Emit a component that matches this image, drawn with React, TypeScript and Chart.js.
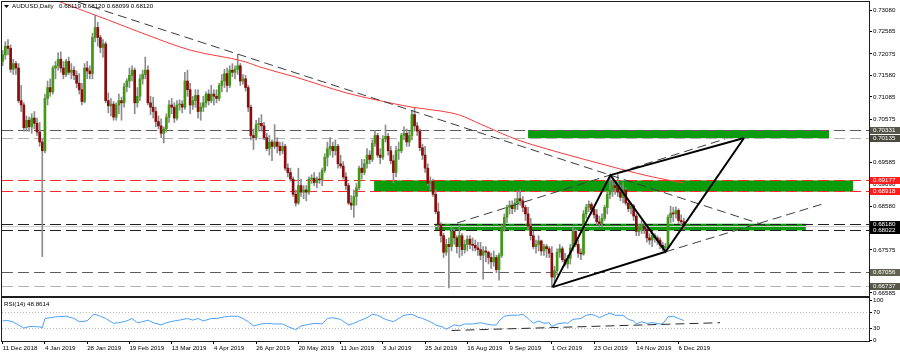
import React, { useEffect, useRef } from "react";
import { Chart, registerables } from "chart.js";

Chart.register(...registerables);

// ---------------- data ----------------
const xTickIndex = [0, 16, 32, 48, 64, 80, 96, 112, 128, 144, 160, 176, 192, 208, 224, 240, 256];
const xTickLabels = [
  "11 Dec 2018", "4 Jan 2019", "28 Jan 2019", "19 Feb 2019", "13 Mar 2019", "4 Apr 2019",
  "26 Apr 2019", "20 May 2019", "11 Jun 2019", "3 Jul 2019", "25 Jul 2019", "16 Aug 2019",
  "9 Sep 2019", "1 Oct 2019", "23 Oct 2019", "14 Nov 2019", "6 Dec 2019",
];
const priceTicks = [0.7308, 0.72585, 0.72075, 0.7158, 0.71085, 0.70575, 0.7008, 0.69585, 0.6909, 0.6858, 0.68085, 0.67575, 0.6708, 0.66585];
const rsiTicks = [0, 30, 70, 100];
const rsiLevels = [70, 30];

const opens = [
  0.7190, 0.7205, 0.7225, 0.7220, 0.7172, 0.7185, 0.7175, 0.7100, 0.7090, 0.7038,
  0.7055, 0.7040, 0.7060, 0.7048, 0.7028, 0.7005, 0.6985, 0.7105, 0.7130, 0.7120,
  0.7175, 0.7180, 0.7195, 0.7175, 0.7160, 0.7190, 0.7165, 0.7170, 0.7158, 0.7140,
  0.7125, 0.7098, 0.7175, 0.7168, 0.7162, 0.7245, 0.7268, 0.7245, 0.7222, 0.7230,
  0.7100, 0.7088, 0.7092, 0.7062, 0.7090, 0.7100, 0.7095, 0.7132, 0.7145, 0.7158,
  0.7170, 0.7095, 0.7110, 0.7150, 0.7160, 0.7170, 0.7095, 0.7085, 0.7075, 0.7052,
  0.7042, 0.7025, 0.7035, 0.7062, 0.7090, 0.7085, 0.7060, 0.7090, 0.7092, 0.7085,
  0.7145, 0.7125, 0.7090, 0.7100, 0.7112, 0.7075, 0.7085, 0.7095, 0.7115, 0.7100,
  0.7115, 0.7110, 0.7105, 0.7135, 0.7145, 0.7162, 0.7135, 0.7170, 0.7165, 0.7172,
  0.7180, 0.7145, 0.7150, 0.7130, 0.7085, 0.7020, 0.7015, 0.7045, 0.7048, 0.7042,
  0.7015, 0.6990, 0.7005, 0.6995, 0.7005, 0.6995, 0.6985, 0.6995, 0.6945, 0.6935,
  0.6920, 0.6885, 0.6865, 0.6905, 0.6890, 0.6895, 0.6890, 0.6920, 0.6922, 0.6912,
  0.6920, 0.6918, 0.6940, 0.6970, 0.6990, 0.6995, 0.6985, 0.6995, 0.6955, 0.6950,
  0.6925, 0.6905, 0.6865, 0.6860, 0.6880, 0.6900, 0.6945, 0.6935, 0.6955, 0.6975,
  0.6965, 0.7002, 0.7020, 0.6975, 0.6970, 0.7012, 0.7018, 0.6985, 0.6962, 0.6935,
  0.6985, 0.6985, 0.7020, 0.7025, 0.7005, 0.7020, 0.7068, 0.7042, 0.7030, 0.6992,
  0.6975, 0.6945, 0.6910, 0.6915, 0.6885, 0.6845, 0.6815, 0.6790, 0.6752, 0.6770,
  0.6765, 0.6800, 0.6785, 0.6765, 0.6790, 0.6758, 0.6770, 0.6782, 0.6770, 0.6768,
  0.6762, 0.6758, 0.6745, 0.6755, 0.6752, 0.6740, 0.6730, 0.6740, 0.6712, 0.6745,
  0.6810, 0.6832, 0.6855, 0.6860, 0.6852, 0.6865, 0.6875, 0.6870, 0.6855, 0.6840,
  0.6812, 0.6790, 0.6765, 0.6770, 0.6778, 0.6755, 0.6765, 0.6760, 0.6750, 0.6695,
  0.6710, 0.6752, 0.6760, 0.6735, 0.6725, 0.6738, 0.6762, 0.6800, 0.6770, 0.6750,
  0.6748, 0.6840, 0.6855, 0.6862, 0.6850, 0.6838, 0.6822, 0.6818, 0.6830, 0.6855,
  0.6885, 0.6895, 0.6905, 0.6900, 0.6890, 0.6878, 0.6895, 0.6865, 0.6852, 0.6858,
  0.6835, 0.6800, 0.6810, 0.6812, 0.6805, 0.6785, 0.6780, 0.6790, 0.6785, 0.6780,
  0.6768, 0.6762, 0.6765, 0.6832, 0.6842, 0.6840, 0.6848, 0.6825, 0.6822,
];
const highs = [
  0.7215, 0.7235, 0.7240, 0.7228, 0.7195, 0.7190, 0.7185, 0.7135, 0.7095, 0.7065,
  0.7062, 0.7070, 0.7075, 0.7060, 0.7050, 0.7012, 0.7115, 0.7145, 0.7150, 0.7180,
  0.7190, 0.7210, 0.7212, 0.7190, 0.7195, 0.7200, 0.7185, 0.7178, 0.7168, 0.7162,
  0.7140, 0.7185, 0.7190, 0.7180, 0.7255, 0.7296, 0.7280, 0.7250, 0.7240, 0.7235,
  0.7118, 0.7105, 0.7098, 0.7095, 0.7115, 0.7108, 0.7140, 0.7150, 0.7175, 0.7180,
  0.7175, 0.7130, 0.7160, 0.7170, 0.7200, 0.7180, 0.7110, 0.7108, 0.7085, 0.7065,
  0.7058, 0.7040, 0.7070, 0.7100, 0.7105, 0.7095, 0.7100, 0.7102, 0.7100, 0.7165,
  0.7170, 0.7140, 0.7110, 0.7125, 0.7125, 0.7095, 0.7110, 0.7120, 0.7125, 0.7135,
  0.7125, 0.7125, 0.7140, 0.7160, 0.7172, 0.7175, 0.7180, 0.7185, 0.7180, 0.7206,
  0.7185, 0.7160, 0.7158, 0.7135, 0.7090, 0.7035, 0.7055, 0.7060, 0.7068, 0.7050,
  0.7025, 0.7020, 0.7010, 0.7045, 0.7015, 0.7005, 0.7005, 0.7000, 0.6955, 0.6945,
  0.6925, 0.6895, 0.6945, 0.6920, 0.6905, 0.6905, 0.6925, 0.6930, 0.6935, 0.6925,
  0.6935, 0.6945, 0.6978, 0.7005, 0.7015, 0.7005, 0.7010, 0.7000, 0.6975, 0.6960,
  0.6935, 0.6910, 0.6882, 0.6895, 0.6910, 0.6950, 0.6965, 0.6965, 0.6990, 0.6985,
  0.7010, 0.7032, 0.7025, 0.6990, 0.7020, 0.7044, 0.7025, 0.6995, 0.6975, 0.6995,
  0.7005, 0.7025, 0.7040, 0.7035, 0.7030, 0.7078, 0.7083, 0.7050, 0.7035, 0.7000,
  0.6995, 0.6955, 0.6925, 0.6920, 0.6895, 0.6865, 0.6820, 0.6795, 0.6782, 0.6785,
  0.6810, 0.6805, 0.6790, 0.6815, 0.6795, 0.6780, 0.6790, 0.6790, 0.6785, 0.6780,
  0.6775, 0.6775, 0.6765, 0.6765, 0.6755, 0.6750, 0.6755, 0.6745, 0.6750, 0.6815,
  0.6840, 0.6860, 0.6870, 0.6870, 0.6875, 0.6892, 0.6895, 0.6880, 0.6860, 0.6855,
  0.6830, 0.6800, 0.6780, 0.6790, 0.6780, 0.6770, 0.6770, 0.6765, 0.6765, 0.6720,
  0.6760, 0.6770, 0.6765, 0.6750, 0.6745, 0.6770, 0.6810, 0.6805, 0.6780, 0.6760,
  0.6848, 0.6862, 0.6870, 0.6866, 0.6855, 0.6850, 0.6835, 0.6840, 0.6860, 0.6890,
  0.6929, 0.6925, 0.6915, 0.6930, 0.6905, 0.6912, 0.6900, 0.6870, 0.6865, 0.6862,
  0.6840, 0.6815, 0.6825, 0.6820, 0.6810, 0.6795, 0.6800, 0.6795, 0.6790, 0.6785,
  0.6775, 0.6772, 0.6838, 0.6858, 0.6855, 0.6856, 0.6852, 0.6838, 0.6830,
];
const lows = [
  0.7180, 0.7195, 0.7205, 0.7165, 0.7160, 0.7160, 0.7095, 0.7075, 0.7030, 0.7030,
  0.7030, 0.7025, 0.7035, 0.7020, 0.6995, 0.6742, 0.6980, 0.7090, 0.7110, 0.7115,
  0.7150, 0.7170, 0.7165, 0.7150, 0.7155, 0.7160, 0.7150, 0.7148, 0.7130, 0.7115,
  0.7090, 0.7095, 0.7150, 0.7150, 0.7150, 0.7235, 0.7225, 0.7210, 0.7200, 0.7095,
  0.7072, 0.7065, 0.7055, 0.7055, 0.7070, 0.7055, 0.7085, 0.7120, 0.7130, 0.7145,
  0.7070, 0.7085, 0.7100, 0.7138, 0.7150, 0.7090, 0.7068, 0.7060, 0.7040, 0.7035,
  0.7015, 0.7003, 0.7028, 0.7050, 0.7070, 0.7050, 0.7055, 0.7078, 0.7072, 0.7080,
  0.7110, 0.7070, 0.7080, 0.7085, 0.7060, 0.7055, 0.7075, 0.7085, 0.7090, 0.7095,
  0.7090, 0.7095, 0.7100, 0.7120, 0.7130, 0.7120, 0.7130, 0.7155, 0.7150, 0.7160,
  0.7135, 0.7138, 0.7122, 0.7075, 0.7010, 0.6988, 0.7010, 0.7030, 0.7030, 0.7010,
  0.6985, 0.6975, 0.6962, 0.6990, 0.6980, 0.6975, 0.6978, 0.6940, 0.6925, 0.6915,
  0.6880, 0.6858, 0.6862, 0.6880, 0.6875, 0.6870, 0.6885, 0.6910, 0.6905, 0.6900,
  0.6910, 0.6905, 0.6935, 0.6950, 0.6975, 0.6970, 0.6975, 0.6945, 0.6945, 0.6920,
  0.6895, 0.6862, 0.6850, 0.6832, 0.6860, 0.6895, 0.6920, 0.6930, 0.6945, 0.6955,
  0.6960, 0.6995, 0.6970, 0.6955, 0.6965, 0.7005, 0.6975, 0.6955, 0.6911, 0.6925,
  0.6965, 0.6980, 0.7010, 0.6995, 0.6995, 0.7010, 0.7030, 0.7020, 0.6985, 0.6965,
  0.6935, 0.6905, 0.6895, 0.6880, 0.6840, 0.6805, 0.6775, 0.6740, 0.6745, 0.6670,
  0.6755, 0.6770, 0.6750, 0.6740, 0.6745, 0.6750, 0.6755, 0.6760, 0.6755, 0.6755,
  0.6745, 0.6735, 0.6690, 0.6730, 0.6725, 0.6715, 0.6720, 0.6705, 0.6688, 0.6740,
  0.6800, 0.6820, 0.6840, 0.6840, 0.6845, 0.6850, 0.6860, 0.6845, 0.6825, 0.6805,
  0.6780, 0.6760, 0.6750, 0.6755, 0.6745, 0.6745, 0.6740, 0.6740, 0.6671, 0.6685,
  0.6700, 0.6740, 0.6730, 0.6720, 0.6715, 0.6725, 0.6755, 0.6765, 0.6740, 0.6735,
  0.6745, 0.6830, 0.6845, 0.6840, 0.6830, 0.6815, 0.6810, 0.6810, 0.6825, 0.6840,
  0.6875, 0.6880, 0.6885, 0.6880, 0.6870, 0.6865, 0.6860, 0.6845, 0.6840, 0.6825,
  0.6790, 0.6790, 0.6795, 0.6795, 0.6775, 0.6770, 0.6765, 0.6775, 0.6770, 0.6760,
  0.6755, 0.6753, 0.6760, 0.6820, 0.6822, 0.6830, 0.6818, 0.6815, 0.6805,
];
const closes = [
  0.7205, 0.7225, 0.7220, 0.7172, 0.7185, 0.7175, 0.7100, 0.7090, 0.7038, 0.7055,
  0.7040, 0.7060, 0.7048, 0.7028, 0.7005, 0.6985, 0.7105, 0.7130, 0.7120, 0.7175,
  0.7180, 0.7195, 0.7175, 0.7160, 0.7190, 0.7165, 0.7170, 0.7158, 0.7140, 0.7125,
  0.7098, 0.7175, 0.7168, 0.7162, 0.7245, 0.7268, 0.7245, 0.7222, 0.7230, 0.7100,
  0.7088, 0.7092, 0.7062, 0.7090, 0.7100, 0.7095, 0.7132, 0.7145, 0.7158, 0.7170,
  0.7095, 0.7110, 0.7150, 0.7160, 0.7170, 0.7095, 0.7085, 0.7075, 0.7052, 0.7042,
  0.7025, 0.7035, 0.7062, 0.7090, 0.7085, 0.7060, 0.7090, 0.7092, 0.7085, 0.7145,
  0.7125, 0.7090, 0.7100, 0.7112, 0.7075, 0.7085, 0.7095, 0.7115, 0.7100, 0.7115,
  0.7110, 0.7105, 0.7135, 0.7145, 0.7162, 0.7135, 0.7170, 0.7165, 0.7172, 0.7180,
  0.7145, 0.7150, 0.7130, 0.7085, 0.7020, 0.7015, 0.7045, 0.7048, 0.7042, 0.7015,
  0.6990, 0.7005, 0.6995, 0.7005, 0.6995, 0.6985, 0.6995, 0.6945, 0.6935, 0.6920,
  0.6885, 0.6865, 0.6905, 0.6890, 0.6895, 0.6890, 0.6920, 0.6922, 0.6912, 0.6920,
  0.6918, 0.6940, 0.6970, 0.6990, 0.6995, 0.6985, 0.6995, 0.6955, 0.6950, 0.6925,
  0.6905, 0.6865, 0.6860, 0.6880, 0.6900, 0.6945, 0.6935, 0.6955, 0.6975, 0.6965,
  0.7002, 0.7020, 0.6975, 0.6970, 0.7012, 0.7018, 0.6985, 0.6962, 0.6935, 0.6985,
  0.6985, 0.7020, 0.7025, 0.7005, 0.7020, 0.7068, 0.7042, 0.7030, 0.6992, 0.6975,
  0.6945, 0.6910, 0.6915, 0.6885, 0.6845, 0.6815, 0.6790, 0.6752, 0.6770, 0.6765,
  0.6800, 0.6785, 0.6765, 0.6790, 0.6758, 0.6770, 0.6782, 0.6770, 0.6768, 0.6762,
  0.6758, 0.6745, 0.6755, 0.6752, 0.6740, 0.6730, 0.6740, 0.6712, 0.6745, 0.6810,
  0.6832, 0.6855, 0.6860, 0.6852, 0.6865, 0.6875, 0.6870, 0.6855, 0.6840, 0.6812,
  0.6790, 0.6765, 0.6770, 0.6778, 0.6755, 0.6765, 0.6760, 0.6750, 0.6695, 0.6710,
  0.6752, 0.6760, 0.6735, 0.6725, 0.6738, 0.6762, 0.6800, 0.6770, 0.6750, 0.6748,
  0.6840, 0.6855, 0.6862, 0.6850, 0.6838, 0.6822, 0.6818, 0.6830, 0.6855, 0.6885,
  0.6895, 0.6905, 0.6900, 0.6890, 0.6878, 0.6895, 0.6865, 0.6852, 0.6858, 0.6835,
  0.6800, 0.6810, 0.6812, 0.6805, 0.6785, 0.6780, 0.6790, 0.6785, 0.6780, 0.6768,
  0.6762, 0.6765, 0.6832, 0.6842, 0.6840, 0.6848, 0.6825, 0.6822, 0.6812,
];

// 200-day moving average (red), read at selected bars
const maIdx = [0, 10, 22, 40, 55, 71, 92, 97, 111, 130, 142, 155, 166, 173, 181, 195, 205, 221, 234, 246, 258];
const maVal = [0.7380, 0.7355, 0.7326, 0.7285, 0.7250, 0.7216, 0.7189, 0.7178, 0.7154, 0.7118, 0.7101, 0.7085, 0.7076, 0.7067, 0.7046, 0.7010, 0.6991, 0.6964, 0.6943, 0.6925, 0.6911];

// RSI(14)
const rsiIdx = [
  0, 2, 4, 6, 8, 10, 12, 14, 15, 16, 18, 20, 24, 27, 29, 32, 34, 35, 37, 39,
  42, 44, 47, 49, 51, 53, 55, 57, 60, 62, 65, 67, 70, 72, 74, 76, 79, 81, 84, 86,
  89, 91, 93, 95, 98, 100, 103, 106, 108, 111, 113, 115, 118, 121, 123, 125, 128, 131, 133, 135,
  138, 140, 142, 145, 148, 151, 152, 155, 157, 159, 162, 164, 167, 168, 169, 171, 173, 175, 178, 181,
  183, 185, 187, 188, 190, 192, 195, 197, 199, 201, 203, 205, 207, 208, 210, 213, 214, 216, 219, 221,
  223, 225, 226, 228, 230, 232, 235, 237, 239, 240, 242, 244, 246, 249, 250, 252, 254, 256, 258,
];
const rsiVal = [
  48, 49, 45, 38, 30, 34, 34, 33, 31, 54, 56, 58, 59.6, 54, 46, 48, 62, 64.5, 59.6, 54,
  42, 43.5, 48, 54, 43.5, 46, 50, 43.5, 38, 43.5, 48, 50, 54, 50, 54, 48, 54, 54, 58, 59.6,
  59.6, 54, 46, 35.5, 40.4, 42, 40.4, 40.4, 34, 26, 35.5, 38, 42, 40.4, 54, 56, 51.7, 38, 42, 48,
  56, 64.5, 62, 51.7, 46, 58, 62, 64.5, 58, 54, 46, 38, 32, 27, 31, 38, 35.5, 40.4, 40.4, 43.5,
  40.4, 38, 38, 48, 59.6, 62, 62, 64.5, 54, 42, 48, 42, 43.5, 34, 40.4, 43.5, 42, 51.7, 54, 62,
  64.5, 59.6, 56, 62, 67.5, 62, 62, 51.7, 48, 40.4, 46, 42, 43.5, 40.4, 40.4, 58, 59.6, 54, 48.9,
];

// horizontal levels and current bid
const levelPrices = [0.70331, 0.70135, 0.69177, 0.68918, 0.6818, 0.68022, 0.67056, 0.66737];
const bidPrice = 0.6812;

// green zones: bar range and price range
const zoneFrom = [199, 140.7, 163.8];
const zoneTo = [313, 322.1, 304.2];
const zoneTop = [0.70325, 0.6917, 0.68175];
const zoneBottom = [0.70138, 0.6891, 0.6802];

// trend lines (bar index, price)
const downIdx = [28.5, 290.6];
const downVal = [0.7326, 0.681];
const chanUpIdx = [172.1, 273.6];
const chanUpVal = [0.6819, 0.7012];
const chanLowIdx = [251.1, 310.7];
const chanLowVal = [0.6753, 0.6863];
// pattern points A, B, C, D
const patIdx = [208.3, 230.2, 251.1, 280.8];
const patVal = [0.6672, 0.6929, 0.6753, 0.70142];
// RSI trend line
const rsiTrendIdx = [170, 271.7];
const rsiTrendVal = [24.2, 43.5];

const titleSymbol = "AUDUSD,Daily";
const titleQuote = "0.68119 0.68120 0.68099 0.68120";
const rsiTitle = "RSI(14) 48.8614";

// ---------------- styles ----------------
const FONT_FAMILY = "'Liberation Sans', Arial, sans-serif";
const FONT_SIZE = 6.2;
const X_MIN = -0.265;
const X_MAX = 328.14;
const Y_MIN = 0.66516;
const Y_MAX = 0.73264;
const RSI_MIN = -2;
const RSI_MAX = 105;
const AXIS_W = 31;
const UP = "#3f9a12";
const DOWN = "#8a0c0c";
const WICK = "#8c8c8c";
const ZONE = "#0a9c0a";
const FRAME = "#1e1e1e";
const LEVEL_LINE = ["#5c5c5c", "#b0b0b0", "#ff2a2a", "#ff2a2a", "#202020", "#202020", "#5c5c5c", "#b0b0b0"];
const LEVEL_BOX = ["#56564a", "#4a4a3e", "#ff1c1c", "#ff1c1c", "#000000", "#000000", "#626252", "#56564a"];

const pts = (xs: number[], ys: number[]) => xs.map((x, k) => ({ x, y: ys[k] }));
const font = () => `${FONT_SIZE}px ${FONT_FAMILY}`;

function drawFrame(chart: any) {
  const { ctx, chartArea: a } = chart;
  ctx.save();
  ctx.strokeStyle = FRAME;
  ctx.lineWidth = 1;
  ctx.setLineDash([]);
  ctx.strokeRect(a.left - 0.5, a.top - 0.5, a.right - a.left + 1, a.bottom - a.top + 1);
  ctx.restore();
}

const mainDecor = {
  id: "mainDecor",
  beforeDatasetsDraw(chart: any) {
    const { ctx, chartArea: a, scales } = chart;
    const xs = scales.x;
    const ys = scales.y;
    ctx.save();
    ctx.beginPath();
    ctx.rect(a.left, a.top, a.right - a.left, a.bottom - a.top);
    ctx.clip();
    ctx.fillStyle = ZONE;
    zoneFrom.forEach((f, k) => {
      const x0 = xs.getPixelForValue(f);
      const x1 = xs.getPixelForValue(zoneTo[k]);
      const y0 = ys.getPixelForValue(zoneTop[k]);
      const y1 = ys.getPixelForValue(zoneBottom[k]);
      ctx.fillRect(x0, y0, x1 - x0, y1 - y0);
    });
    const yb = Math.round(ys.getPixelForValue(bidPrice)) + 0.5;
    ctx.strokeStyle = "#cfcfcf";
    ctx.lineWidth = 1;
    ctx.beginPath();
    ctx.moveTo(a.left, yb);
    ctx.lineTo(a.right, yb);
    ctx.stroke();
    ctx.setLineDash([11, 5]);
    levelPrices.forEach((p, k) => {
      const yy = Math.round(ys.getPixelForValue(p)) + 0.5;
      ctx.strokeStyle = LEVEL_LINE[k];
      ctx.beginPath();
      ctx.moveTo(a.left, yy);
      ctx.lineTo(a.right, yy);
      ctx.stroke();
    });
    ctx.restore();
  },
  afterDraw(chart: any) {
    const { ctx, chartArea: a, scales, width } = chart;
    const ys = scales.y;
    drawFrame(chart);
    ctx.save();
    ctx.font = font();
    ctx.textBaseline = "middle";
    ctx.textAlign = "left";
    levelPrices.forEach((p, k) => {
      const yy = Math.round(ys.getPixelForValue(p));
      ctx.fillStyle = LEVEL_BOX[k];
      ctx.fillRect(a.right + 1, yy - 3, width - a.right - 1, 7);
      ctx.fillStyle = "#ffffff";
      ctx.fillText(p.toFixed(5), a.right + 4, yy + 0.5);
    });
    // title
    ctx.fillStyle = "#000";
    ctx.beginPath();
    ctx.moveTo(a.left + 2, a.top + 3);
    ctx.lineTo(a.left + 7, a.top + 3);
    ctx.lineTo(a.left + 4.5, a.top + 6);
    ctx.closePath();
    ctx.fill();
    ctx.fillText(titleSymbol, a.left + 10, a.top + 4.5);
    ctx.fillText(titleQuote, a.left + 57, a.top + 4.5);
    ctx.restore();
  },
};

const rsiDecor = {
  id: "rsiDecor",
  beforeDatasetsDraw(chart: any) {
    const { ctx, chartArea: a, scales } = chart;
    ctx.save();
    ctx.strokeStyle = "#b8b8b8";
    ctx.lineWidth = 1;
    ctx.setLineDash([1, 2]);
    rsiLevels.forEach((v) => {
      const yy = Math.round(scales.y.getPixelForValue(v)) + 0.5;
      ctx.beginPath();
      ctx.moveTo(a.left, yy);
      ctx.lineTo(a.right, yy);
      ctx.stroke();
    });
    ctx.restore();
  },
  afterDraw(chart: any) {
    const { ctx, chartArea: a } = chart;
    drawFrame(chart);
    ctx.save();
    ctx.font = font();
    ctx.fillStyle = "#000";
    ctx.textBaseline = "middle";
    ctx.textAlign = "left";
    ctx.fillText(rsiTitle, a.left + 2, a.top + 6.5);
    ctx.restore();
  },
};

const tickFont = { family: FONT_FAMILY, size: FONT_SIZE };

function yAxisBase() {
  return {
    type: "linear",
    position: "right",
    afterFit: (s: any) => {
      s.width = AXIS_W;
      s.paddingTop = 0;
      s.paddingBottom = 0;
    },
    ticks: { autoSkip: false, padding: 1, color: "#000", font: tickFont },
    grid: { drawOnChartArea: false, drawTicks: true, tickLength: 3, tickColor: "#000", color: "#000" },
    border: { display: true, color: FRAME, width: 1 },
  };
}

function lineDs(data: any[], color: string, width: number, dash: number[], order: number) {
  return {
    type: "line",
    data,
    borderColor: color,
    borderWidth: width,
    borderDash: dash,
    pointRadius: 0,
    fill: false,
    clip: 0,
    order,
  };
}

export default function App() {
  const mainRef = useRef<HTMLCanvasElement>(null);
  const rsiRef = useRef<HTMLCanvasElement>(null);

  useEffect(() => {
    document.body.style.margin = "0";
    document.body.style.background = "#ffffff";
    Chart.defaults.font.family = FONT_FAMILY;

    const bodyColors = opens.map((o, i) => (closes[i] >= o ? UP : DOWN));
    const [A, B, C, D] = patIdx.map((x, k) => ({ x, y: patVal[k] }));

    const main = new Chart(mainRef.current as HTMLCanvasElement, {
      type: "line",
      data: {
        datasets: [
          lineDs([A, B, C, D], "#000", 2, [], 0),
          lineDs([A, C], "#000", 2, [], 0),
          lineDs([B, D], "#000", 2, [], 0),
          lineDs(pts(downIdx, downVal), "#3c3c3c", 1, [9, 5], 1),
          lineDs(pts(chanUpIdx, chanUpVal), "#3c3c3c", 1, [9, 5], 1),
          lineDs(pts(chanLowIdx, chanLowVal), "#3c3c3c", 1, [9, 5], 1),
          { ...lineDs(pts(maIdx, maVal), "#ff3a3a", 1, [], 2), cubicInterpolationMode: "monotone" },
          {
            type: "bar",
            data: opens.map((o, i) => ({ x: i, y: [o, closes[i]] })),
            backgroundColor: bodyColors,
            borderWidth: 0,
            barThickness: 2,
            minBarLength: 1,
            grouped: false,
            clip: 0,
            order: 3,
          },
          {
            type: "bar",
            data: opens.map((_, i) => ({ x: i, y: [lows[i], highs[i]] })),
            backgroundColor: WICK,
            borderWidth: 0,
            barThickness: 1,
            grouped: false,
            clip: 0,
            order: 4,
          },
        ],
      } as any,
      options: {
        responsive: false,
        animation: false,
        devicePixelRatio: 1,
        events: [],
        layout: { padding: { left: 2, top: 2, right: 0, bottom: 1 } },
        plugins: { legend: { display: false }, tooltip: { enabled: false } },
        scales: {
          x: { type: "linear", min: X_MIN, max: X_MAX, display: false, offset: false },
          y: {
            ...yAxisBase(),
            min: Y_MIN,
            max: Y_MAX,
            afterBuildTicks: (s: any) => {
              s.ticks = priceTicks.map((v) => ({ value: v }));
            },
            ticks: { ...yAxisBase().ticks, callback: (v: any) => Number(v).toFixed(5) },
          },
        },
      } as any,
      plugins: [mainDecor],
    } as any);

    const rsi = new Chart(rsiRef.current as HTMLCanvasElement, {
      type: "line",
      data: {
        datasets: [
          lineDs(pts(rsiTrendIdx, rsiTrendVal), "#2a2a2a", 1, [9, 5], 0),
          lineDs(pts(rsiIdx, rsiVal), "#4aa0ff", 1, [], 1),
        ],
      } as any,
      options: {
        responsive: false,
        animation: false,
        devicePixelRatio: 1,
        events: [],
        layout: { padding: { left: 2, top: 1, right: 0, bottom: 0 } },
        plugins: { legend: { display: false }, tooltip: { enabled: false } },
        scales: {
          x: {
            type: "linear",
            min: X_MIN,
            max: X_MAX,
            offset: false,
            position: "bottom",
            afterBuildTicks: (s: any) => {
              s.ticks = xTickIndex.map((v) => ({ value: v }));
            },
            afterFit: (s: any) => {
              s.height = 14;
              s.paddingLeft = 0;
              s.paddingRight = 0;
            },
            ticks: {
              autoSkip: false,
              maxRotation: 0,
              minRotation: 0,
              align: "start",
              padding: 1,
              color: "#000",
              font: tickFont,
              callback: (_v: any, idx: number) => xTickLabels[idx],
            },
            grid: { drawOnChartArea: false, drawTicks: true, tickLength: 3, tickColor: "#000", color: "#000", offset: false },
            border: { display: true, color: FRAME, width: 1 },
          },
          y: {
            ...yAxisBase(),
            min: RSI_MIN,
            max: RSI_MAX,
            afterBuildTicks: (s: any) => {
              s.ticks = rsiTicks.map((v) => ({ value: v }));
            },
            ticks: { ...yAxisBase().ticks, callback: (v: any) => String(v) },
          },
        },
      } as any,
      plugins: [rsiDecor],
    } as any);

    return () => {
      main.destroy();
      rsi.destroy();
    };
  }, []);

  return (
    <div style={{ width: 900, height: 355, background: "#ffffff", overflow: "hidden" }}>
      <canvas ref={mainRef} width={900} height={297} style={{ display: "block" }} />
      <canvas ref={rsiRef} width={900} height={58} style={{ display: "block" }} />
    </div>
  );
}
